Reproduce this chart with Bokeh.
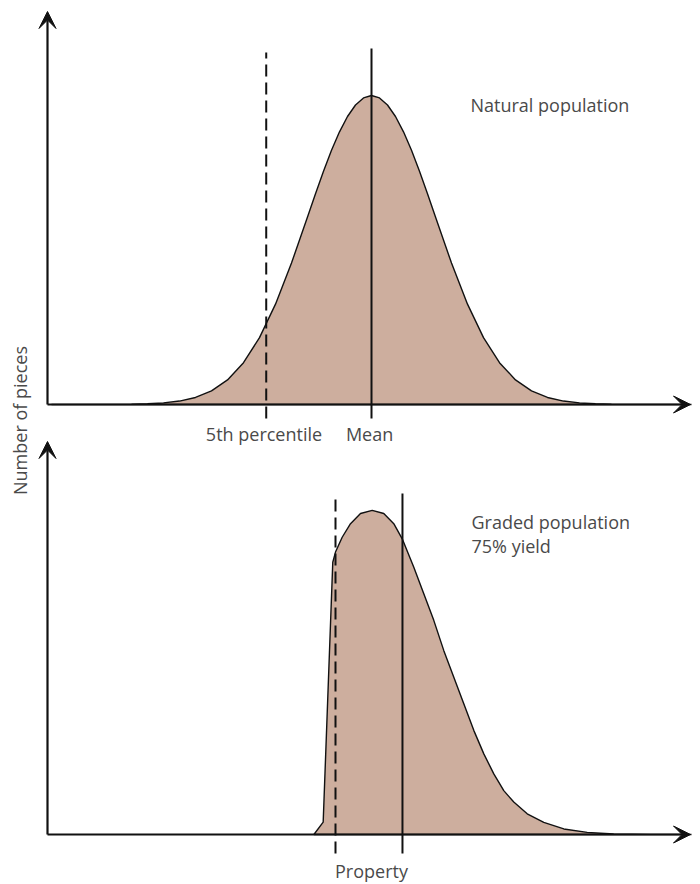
from math import pi
from bokeh.plotting import figure
from bokeh.models import Range1d, Arrow, VeeHead, Label
from bokeh.embed import file_html
from bokeh.resources import INLINE

# ---------------- data (property in std-dev units, height relative to natural peak) ----
nat_x = [-5.0, -4.5, -4.0, -3.75, -3.5, -3.25, -3.0, -2.75, -2.5, -2.25, -2.0, -1.75,
         -1.5, -1.25, -1.0, -0.875, -0.75, -0.625, -0.5, -0.375, -0.25, -0.125, 0.0,
         0.125, 0.25, 0.375, 0.5, 0.625, 0.75, 0.875, 1.0, 1.25, 1.5, 1.75, 2.0, 2.25,
         2.5, 2.75, 3.0, 3.25, 3.5, 3.75, 4.0, 4.5, 5.0]
nat_h = [0.0, 0.0, 0.0003, 0.0009, 0.0022, 0.0051, 0.0111, 0.0228, 0.0439, 0.0796, 0.1353, 0.2163,
         0.3247, 0.4578, 0.6065, 0.6822, 0.7548, 0.8226, 0.8825, 0.9321, 0.9692, 0.9922, 1.0,
         0.9922, 0.9692, 0.9321, 0.8825, 0.8226, 0.7548, 0.6822, 0.6065, 0.4578, 0.3247, 0.2163, 0.1353, 0.0796,
         0.0439, 0.0228, 0.0111, 0.0051, 0.0022, 0.0009, 0.0003, 0.0, 0.0]
nat_p5 = -1.645
nat_mean = 0.0

grd_x = [-0.90, -0.755, -0.605, -0.5625, -0.458, -0.328, -0.172, 0.011, 0.192, 0.348, 0.48,
         0.661, 0.817, 0.973, 1.13, 1.286, 1.442, 1.598, 1.755, 1.911, 2.067, 2.223, 2.433,
         2.692, 3.005, 3.37, 3.786, 4.36, 5.0]
grd_h = [0.0, 0.040, 0.881, 0.914, 0.962, 1.006, 1.039, 1.049, 1.039, 1.006, 0.957,
         0.865, 0.779, 0.693, 0.595, 0.509, 0.423, 0.337, 0.261, 0.196, 0.142, 0.105, 0.067,
         0.039, 0.018, 0.007, 0.002, 0.0, 0.0]
grd_p5 = -0.5625
grd_mean = 0.484

labels_top = ["5th percentile", "Mean"]
label_top_x = [-1.68, -0.03]
title_top = "Natural population"
title_bot = ["Graded population", "75% yield"]
x_label = "Property"
y_label = "Number of pieces"

# ---------------- layout constants (page pixels) ----------------
W, H, M = 700, 884, 0
X0, SX = 371.0, 64.0          # page x of property 0, px per unit
SY = 309.0                    # px per height unit
BASE_TOP, BASE_BOT = 404.0, 834.0

def px_x(px):
    return (px - X0) / SX

def py_top(py):
    return (BASE_TOP - py) / SY

def py_bot(py):
    return (BASE_BOT - py) / SY

FILL = "#CDAE9E"
INK = "#111111"
TXT = "#4a4a4a"
FONT = "Open Sans"
FS = "18px"

p = figure(width=W, height=H, toolbar_location=None, output_backend="svg",
           x_range=Range1d(px_x(M), px_x(M + W)),
           y_range=Range1d(py_top(M + H), py_top(M)),
           x_axis_location=None, y_axis_location=None, min_border=0,
           outline_line_color=None, background_fill_color="white")
p.extra_y_ranges = {"bot": Range1d(py_bot(M + H), py_bot(M))}
p.grid.grid_line_color = None

# ---- curves ----
p.patch(nat_x, nat_h, fill_color=FILL, line_color=INK, line_width=1.4)
p.patch(grd_x, grd_h, fill_color=FILL, line_color=INK, line_width=1.4, y_range_name="bot")

# ---- vertical marker lines ----
p.segment(x0=[nat_p5], y0=[py_top(418)], x1=[nat_p5], y1=[py_top(52)],
          line_color=INK, line_width=2, line_dash="12 6")
p.segment(x0=[nat_mean], y0=[py_top(418)], x1=[nat_mean], y1=[py_top(48)],
          line_color=INK, line_width=2)
p.segment(x0=[grd_p5], y0=[py_bot(853)], x1=[grd_p5], y1=[py_bot(493)],
          line_color=INK, line_width=2, line_dash="12 6", y_range_name="bot")
p.segment(x0=[grd_mean], y0=[py_bot(853)], x1=[grd_mean], y1=[py_bot(493)],
          line_color=INK, line_width=2, y_range_name="bot")

# ---- axes with arrow heads ----
def head():
    return VeeHead(size=17, fill_color=INK, line_color=INK, line_width=1)

xa0, xa1 = px_x(47), px_x(690)
p.add_layout(Arrow(x_start=xa0, y_start=0, x_end=xa1, y_end=0, end=head(),
                   line_width=2.2, line_color=INK))
p.add_layout(Arrow(x_start=xa0, y_start=0, x_end=xa0, y_end=py_top(11), end=head(),
                   line_width=2.2, line_color=INK))
p.add_layout(Arrow(x_start=xa0, y_start=0, x_end=xa1, y_end=0, end=head(),
                   line_width=2.2, line_color=INK, y_range_name="bot"))
p.add_layout(Arrow(x_start=xa0, y_start=0, x_end=xa0, y_end=py_bot(441), end=head(),
                   line_width=2.2, line_color=INK, y_range_name="bot"))

# ---- texts ----
def lab(x, y, t, align="left", yr="default", angle=0.0):
    p.add_layout(Label(x=x, y=y, text=t, text_font=FONT, text_font_size=FS,
                       text_color=TXT, text_align=align, text_baseline="middle",
                       angle=angle, y_range_name=yr))

for t, x in zip(labels_top, label_top_x):
    lab(x, py_top(433), t, align="center")
lab(px_x(470), py_top(104), title_top)
lab(px_x(471), py_bot(521), title_bot[0], yr="bot")
lab(px_x(471), py_bot(545), title_bot[1], yr="bot")
lab(0.0, py_bot(870), x_label, align="center", yr="bot")
lab(px_x(19), py_top(420), y_label, align="center", angle=pi / 2)

open("out.html", "w").write(file_html(p, INLINE))
